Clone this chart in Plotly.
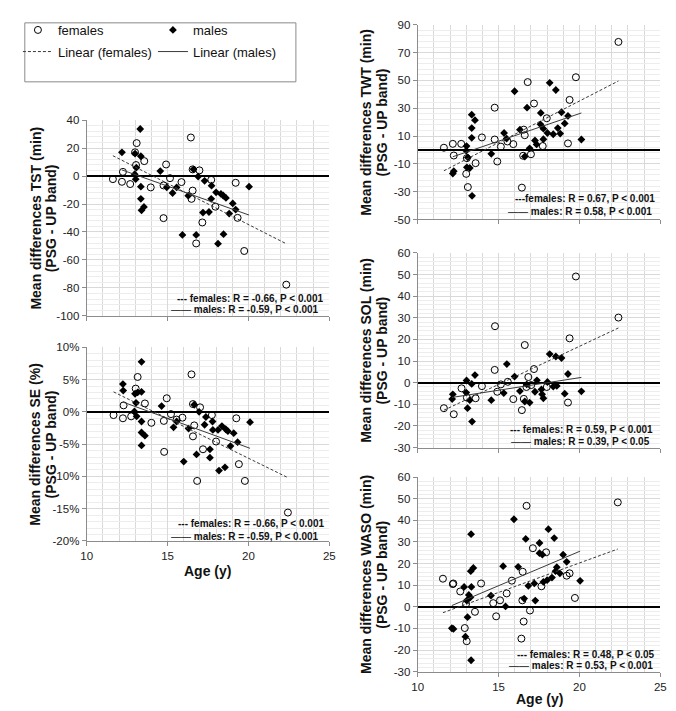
import numpy as np
import plotly.graph_objects as go

W, H = 676, 711

# ---------------- data ----------------
# TST (min)
tst_f_age = [11.62, 12.18, 12.24, 12.69, 12.99, 13.09, 13.05, 13.56, 13.96, 14.75, 14.75, 14.91, 15.15,
             15.86, 16.44, 16.55, 16.55, 16.48, 16.77, 16.97, 17.15, 17.70, 17.96, 19.21, 19.33, 19.74, 22.34]
tst_f = [-2.2, -4.1, 3.0, -5.7, 17.0, 23.6, 7.9, 10.7, -8.1, -30.1, -6.7, 8.3, -1.5,
         -4.3, 27.6, 4.8, -10.4, -16.3, -48.2, 4.1, -33.2, -2.7, -21.9, -4.8, -29.9, -53.6, -77.7]
tst_m_age = [12.18, 12.99, 13.31, 13.35, 13.07, 12.97, 13.03, 13.35, 13.35, 13.39, 13.54, 14.55, 14.95,
             15.31, 15.56, 15.92, 16.28, 16.60, 16.77, 16.89, 17.19, 17.29, 17.56, 17.72, 17.70, 18.00,
             18.12, 18.30, 18.44, 18.46, 18.61, 18.81, 19.03, 19.21, 20.04]
tst_m = [17.0, 16.1, 33.7, 14.2, 6.0, 1.3, -2.2, -7.6, -16.3, -24.5, -22.1, 3.6, -8.0,
         -12.1, -8.1, -42.1, -14.0, 4.8, -42.1, -0.3, -26.1, -3.4, -25.7, -6.9, -16.3, -11.6,
         -48.4, -12.8, -13.9, -41.6, -15.6, -26.8, -19.6, -24.0, -7.6]

# SE (%)
se_f_age = [11.66, 12.24, 12.28, 12.75, 13.03, 13.15, 13.60, 14.00, 14.77, 14.79, 14.95, 15.21, 15.56,
            15.92, 16.48, 16.57, 16.57, 16.65, 16.83, 17.01, 17.19, 17.74, 18.00, 19.25, 19.41, 19.78, 22.44]
se_f = [-0.5, -1.0, 1.0, -0.7, 3.6, 5.4, 1.3, -1.7, -1.4, -6.2, 2.1, -0.35, -1.2,
        -0.9, 5.8, 1.2, -3.8, -2.1, -10.7, 0.7, -5.8, -0.5, -4.6, -1.0, -8.1, -10.7, -15.6]
se_m_age = [12.24, 12.26, 13.39, 12.99, 13.15, 13.39, 13.05, 12.95, 13.09, 13.39, 13.39, 13.60, 13.39,
            14.63, 15.37, 15.56, 16.00, 16.30, 16.65, 16.79, 16.95, 17.29, 17.37, 17.62, 17.62, 17.78,
            17.80, 18.12, 18.18, 18.36, 18.55, 18.60, 18.73, 18.89, 19.09, 19.33, 20.10]
se_m = [4.3, 3.3, 7.75, 2.8, 3.0, 3.1, 1.4, 0.05, -0.7, -1.5, -3.2, -3.7, -5.2,
        0.9, -2.4, -1.5, -7.7, -2.6, 1.1, -6.6, 0.0, -2.0, -0.8, -5.8, -7.1, -1.5,
        -2.8, -2.8, -9.1, -2.2, -8.6, -2.7, -3.0, -5.3, -3.3, -4.7, -1.6]

# TWT (min)
twt_f_age = [11.62, 12.17, 12.23, 12.69, 13.00, 13.10, 13.04, 13.58, 13.97, 14.76, 14.76, 14.92, 15.14,
             15.55, 15.91, 16.44, 16.56, 16.62, 16.80, 16.52, 17.00, 17.19, 17.73, 17.98, 19.29, 19.39,
             19.78, 22.41]
twt_f = [1.6, 4.4, -4.0, 4.4, -17.2, -26.7, -5.9, -9.5, 9.0, 30.4, 7.5, -8.3, 2.4,
         6.1, 4.2, -27.1, 14.6, 10.6, 48.8, -4.2, -3.1, 33.4, 2.8, 22.8, 4.7, 36.0, 52.3, 77.7]
twt_m_age = [12.17, 12.23, 13.02, 13.00, 13.10, 13.04, 13.22, 13.36, 13.34, 13.34, 13.34, 13.54, 14.55,
             15.34, 15.50, 15.99, 16.32, 16.62, 16.76, 16.92, 17.25, 17.35, 17.61, 17.59, 17.77, 17.77,
             18.02, 18.16, 18.38, 18.54, 18.66, 18.81, 18.89, 19.09, 19.29, 20.12]
twt_m = [-17.0, -15.3, 2.8, -0.5, -5.4, -12.5, -13.0, -33.0, 25.4, 15.7, 8.7, 21.4, -2.8,
         12.2, 8.2, 42.2, 14.6, -4.7, 30.4, 1.2, 6.8, 4.0, 26.6, 18.4, 15.3, 7.7,
         12.2, 48.3, 11.3, 43.1, 15.7, 11.8, 27.1, 19.1, 24.5, 7.5]

# SOL (min)
sol_f_age = [11.62, 12.23, 12.71, 13.04, 13.58, 13.97, 14.76, 14.78, 14.92, 15.14, 15.57, 15.91, 16.44,
             16.56, 16.62, 16.72, 16.84, 17.02, 17.19, 17.98, 19.29, 19.39, 19.78, 22.41]
sol_f = [-11.8, -14.6, -2.6, -6.9, -7.2, -1.6, 5.9, 26.1, -4.2, -0.8, 0.4, -7.6, -12.7,
         -7.5, 17.4, -2.0, 2.6, -1.1, 6.3, -2.0, -9.2, 20.5, 49.1, 30.1]
sol_m_age = [12.17, 12.13, 13.02, 13.00, 13.08, 13.22, 13.34, 13.36, 13.54, 14.55, 15.32, 15.51, 15.99,
             16.32, 16.62, 16.74, 16.92, 17.25, 17.37, 17.65, 17.69, 17.77, 18.02, 18.16, 18.38, 18.54,
             18.60, 18.89, 19.09, 19.29, 20.12]
sol_m = [-5.4, -7.6, 1.0, -4.6, -11.8, -8.1, -0.6, -18.0, 3.5, -8.1, -4.8, 8.6, 2.8,
         -3.9, -8.7, -0.8, -9.2, -4.2, 1.1, -3.1, -5.4, -7.2, 0.3, 13.2, -1.8, 12.1,
         -1.5, 11.4, -5.1, 4.0, -4.0]

# WASO (min)
waso_f_age = [11.56, 12.17, 12.20, 12.63, 12.91, 13.03, 12.99, 13.54, 13.92, 14.67, 14.85, 15.09, 15.50,
              15.82, 16.41, 16.49, 16.47, 16.55, 16.73, 16.94, 17.12, 17.65, 17.94, 19.21, 19.39, 19.72,
              22.37]
waso_f = [13.0, 10.5, 10.8, 7.1, -9.8, -15.9, 1.4, -2.3, 10.8, 1.7, -4.4, 3.0, 6.2,
          12.1, -14.7, 16.2, 3.0, -6.8, 46.7, -1.7, 27.1, 9.5, 25.2, 14.4, 15.5, 4.1, 48.3]
waso_m_age = [12.11, 12.21, 12.87, 12.95, 13.03, 13.08, 13.16, 13.26, 13.30, 13.32, 13.30, 13.28, 13.44,
              14.53, 15.28, 15.43, 15.95, 16.21, 16.58, 16.68, 16.84, 17.21, 17.27, 17.53, 17.53, 17.71,
              17.77, 18.00, 18.08, 18.30, 18.44, 18.52, 18.60, 18.79, 18.99, 19.21, 20.04]
waso_m = [-9.9, -10.2, 9.2, -13.8, 2.9, -4.8, 5.5, 4.4, 33.6, 9.2, -24.7, 16.5, 18.0,
          5.2, 18.8, 0.2, 40.5, 18.5, 3.8, 31.4, 9.7, 10.8, 2.9, 29.5, 24.8, 24.1,
          11.5, 12.3, 35.9, 13.5, 31.8, 16.5, 18.3, 15.5, 24.1, 20.8, 12.0]

# tick values / labels
age_ticks = [10, 15, 20, 25]
tst_ticks = [-100, -80, -60, -40, -20, 0, 20, 40]
se_ticks = [-20, -15, -10, -5, 0, 5, 10]
twt_ticks = [-50, -30, -10, 10, 30, 50, 70, 90]
sol_ticks = [-30, -20, -10, 0, 10, 20, 30, 40, 50, 60]
waso_ticks = [-30, -20, -10, 0, 10, 20, 30, 40, 50, 60]

stats_f = ["--- females: R = -0.66, P < 0.001", "--- females: R = -0.66, P < 0.001",
           "---females: R = 0.67, P < 0.001", "--- females: R = 0.59, P < 0.001",
           "--- females: R = 0.48, P < 0.05"]
stats_m = ["males: R = -0.59, P < 0.001", "males: R = -0.59, P < 0.001",
           "males: R = 0.58, P < 0.001", "males: R = 0.39, P < 0.05",
           "males: R = 0.53, P < 0.001"]
ytitles = ["Mean differences TST (min)", "Mean differences SE (%)", "Mean differences TWT (min)",
           "Mean differences SOL (min)", "Mean differences WASO (min)"]

# ---------------- layout geometry (pixels) ----------------
FONT = "Arial, 'Liberation Sans', sans-serif"
GRID = "#d9d9d9"
MINOR = "#ededed"
AXC = "#8c8c8c"


def px(x):
    return x / W


def py(y):
    return 1 - y / H


panels = [
    dict(fa=tst_f_age, fv=tst_f, ma=tst_m_age, mv=tst_m, box=(74, 108, 321, 307), yr=[-100, 40],
         ticks=tst_ticks, lab=[str(v) for v in tst_ticks], minor=4, showx=False,
         tx=(22, 38), sx=(317, 313), sy=(289, 301)),
    dict(fa=se_f_age, fv=se_f, ma=se_m_age, mv=se_m, box=(74, 339, 321, 536), yr=[-20, 10],
         ticks=se_ticks, lab=[f"{v}%" for v in se_ticks], minor=1, showx=True,
         tx=(22, 38), sx=(318, 313), sy=(518, 531)),
    dict(fa=twt_f_age, fv=twt_f, ma=twt_m_age, mv=twt_m, box=(411, 11, 658, 209), yr=[-50, 90],
         ticks=twt_ticks, lab=[str(v) for v in twt_ticks], minor=4, showx=False,
         tx=(359, 375), sx=(655, 651.5), sy=(188, 201)),
    dict(fa=sol_f_age, fv=sol_f, ma=sol_m_age, mv=sol_m, box=(411, 243, 658, 441), yr=[-30, 60],
         ticks=sol_ticks, lab=[str(v) for v in sol_ticks], minor=2, showx=False,
         tx=(359, 375), sx=(653, 649.5), sy=(423, 434.5)),
    dict(fa=waso_f_age, fv=waso_f, ma=waso_m_age, mv=waso_m, box=(411, 471, 658, 669), yr=[-30, 60],
         ticks=waso_ticks, lab=[str(v) for v in waso_ticks], minor=2, showx=True,
         tx=(359, 375), sx=(655, 652.5), sy=(651, 663)),
]

fig = go.Figure()
annotations = []
layout = {}

for i, p in enumerate(panels):
    n = "" if i == 0 else str(i + 1)
    xref, yref = "x" + n, "y" + n
    x0, y0, x1, y1 = p["box"]
    first = i == 0
    fig.add_trace(go.Scatter(
        x=p["fa"], y=p["fv"], mode="markers", name="females", xaxis=xref, yaxis=yref,
        marker=dict(symbol="circle-open", size=7, color="#000", line=dict(width=1, color="#000")),
        showlegend=first, legend="legend"))
    fig.add_trace(go.Scatter(
        x=p["ma"], y=p["mv"], mode="markers", name="males", xaxis=xref, yaxis=yref,
        marker=dict(symbol="diamond", size=6, color="#000"),
        showlegend=first, legend="legend"))
    # linear trend lines fitted from the data
    for ages, vals, nm, dash in [(p["fa"], p["fv"], "Linear (females)", "3px,2px"),
                                 (p["ma"], p["mv"], "Linear (males)", "solid")]:
        a = np.array(ages)
        v = np.array(vals)
        k, b = np.polyfit(a, v, 1)
        xs = np.array([a.min(), a.max()])
        fig.add_trace(go.Scatter(
            x=xs, y=k * xs + b, mode="lines", name=nm, xaxis=xref, yaxis=yref,
            line=dict(color="#3a3a3a", width=1, dash=dash),
            showlegend=first, legend="legend2"))

    layout["xaxis" + n] = dict(
        domain=[px(x0), px(x1)], anchor=yref, range=[10, 25], tickmode="array",
        tickvals=age_ticks, ticktext=[str(t) for t in age_ticks], showticklabels=p["showx"],
        showgrid=True, gridcolor=GRID, gridwidth=1, zeroline=False,
        showline=True, linecolor=AXC, linewidth=1, ticks="outside", ticklen=4, tickcolor=AXC,
        minor=dict(tickmode="linear", tick0=10, dtick=1, showgrid=True, gridcolor=GRID, ticks=""),
        tickfont=dict(family=FONT, size=11.5, color="#222"), fixedrange=True)
    layout["yaxis" + n] = dict(
        domain=[py(y1), py(y0)], anchor=xref, range=p["yr"], tickmode="array",
        tickvals=p["ticks"], ticktext=p["lab"], showgrid=True, gridcolor=GRID, gridwidth=1,
        zeroline=True, zerolinecolor="#000", zerolinewidth=2,
        showline=True, linecolor=AXC, linewidth=1, ticks="outside", ticklen=4, tickcolor=AXC,
        minor=dict(tickmode="linear", tick0=p["yr"][0], dtick=p["minor"], showgrid=True,
                   gridcolor=MINOR, ticks=""),
        tickfont=dict(family=FONT, size=11.5, color="#222"), fixedrange=True)

    yc = (y0 + y1) / 2
    annotations.append(dict(text="<b>" + ytitles[i] + "</b>", x=px(p["tx"][0]), y=py(yc),
                            xref="paper", yref="paper", textangle=-90, showarrow=False,
                            xanchor="center", yanchor="middle",
                            font=dict(family=FONT, size=14, color="#111")))
    annotations.append(dict(text="<b>(PSG - UP band)</b>", x=px(p["tx"][1]), y=py(yc),
                            xref="paper", yref="paper", textangle=-90, showarrow=False,
                            xanchor="center", yanchor="middle",
                            font=dict(family=FONT, size=14, color="#111")))
    annotations.append(dict(text="<b>" + stats_f[i] + "</b>", x=px(p["sx"][0]), y=py(p["sy"][0]),
                            xref="paper", yref="paper", showarrow=False, xanchor="right",
                            yanchor="middle", font=dict(family=FONT, size=10, color="#111")))
    annotations.append(dict(text="—— <b>" + stats_m[i] + "</b>", x=px(p["sx"][1]), y=py(p["sy"][1]),
                            xref="paper", yref="paper", showarrow=False, xanchor="right",
                            yanchor="middle", font=dict(family=FONT, size=10, color="#111")))
    if p["showx"]:
        annotations.append(dict(text="<b>Age (y)</b>", x=px((x0 + x1) / 2),
                                y=py(y1 + (31 if i == 1 else 28)), xref="paper", yref="paper",
                                showarrow=False, xanchor="center", yanchor="middle",
                                font=dict(family=FONT, size=14, color="#111")))

fig.update_layout(
    width=W, height=H, margin=dict(l=0, r=0, t=0, b=0),
    paper_bgcolor="white", plot_bgcolor="white",
    font=dict(family=FONT, size=12, color="#111"),
    annotations=annotations,
    legend=dict(orientation="h", x=px(4), y=py(1), xanchor="left", yanchor="top",
                entrywidth=90, entrywidthmode="pixels", bgcolor="rgba(0,0,0,0)",
                font=dict(family=FONT, size=13, color="#111"), borderwidth=0),
    legend2=dict(orientation="h", x=px(4), y=py(23), xanchor="left", yanchor="top",
                 entrywidth=90, entrywidthmode="pixels", bgcolor="rgba(0,0,0,0)",
                 font=dict(family=FONT, size=13, color="#111"), borderwidth=0),
    shapes=[dict(type="rect", xref="paper", yref="paper", x0=px(11), x1=px(287), y0=py(69),
                 y1=py(9), line=dict(color="#8a8a8a", width=1), fillcolor="rgba(0,0,0,0)")],
    showlegend=True,
    **layout,
)

fig.write_html("out.html")
